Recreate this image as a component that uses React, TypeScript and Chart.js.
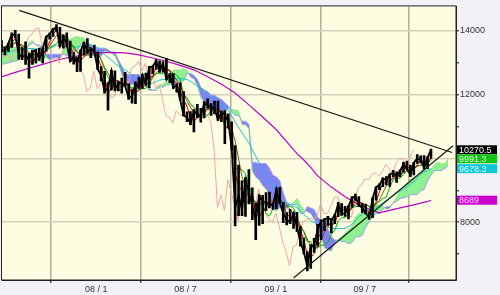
import React, { useEffect, useRef } from "react";
import { Chart, registerables } from "chart.js";
Chart.register(...registerables);

// ---- data (weekly, Dow Jones style index) ----
const START_WEEK = "2007-06-22";
const HIGH = [
  13700,13500,13620,13940,14020,13900,13480,13660,13290,13400,
  13420,13460,13460,13830,13930,14070,14200,14110,13880,13940,
  13680,13320,13180,13400,13640,13760,13460,13560,13340,12880,
  12730,12380,12770,12750,12430,12520,12700,12340,12160,12400,
  12550,12650,12680,12890,12900,13100,13060,13030,13140,12670,
  12660,12350,12370,12100,11460,11470,11530,11700,11570,11780,
  11870,11720,11800,11800,11480,11500,11400,11150,10400,9790,
  9300,9400,9650,9080,8600,8850,8840,8930,8940,8610,
  9070,9090,8620,8300,8400,8300,8310,7860,7510,7080,
  7300,7490,7930,8070,8110,8180,8100,8250,8620,8580,
  8500,8520,8800,8880,8800,8600,8560,8300,8760,9110,
  9200,9390,9430,9510,9630,9580,9640,9880,9920,9790,
  9880,10120,10080,10090,10050,10290,
];
const LOW = [
  13330,13250,13360,13480,13790,13110,13100,12950,12520,12950,
  12990,13080,13000,13360,13740,13830,13990,13500,13460,13500,
  13040,12960,12720,12730,13260,13300,13160,13340,12790,12430,
  12050,11510,12150,12120,12120,12050,12250,11850,11730,11720,
  12200,12200,12300,12220,12660,12790,12700,12710,12470,12380,
  12200,12080,11830,11330,11150,11060,10830,11280,11140,11270,
  11570,11350,11400,11190,11150,10460,10950,10270,7880,8200,
  8200,8180,8570,8080,7450,7900,7950,8360,8450,8400,
  8420,8570,7980,7910,7950,7800,7700,7250,7000,6470,
  6550,7050,7250,7450,7730,7900,7660,7950,8170,8210,
  8180,8100,8470,8680,8490,8300,8260,8090,8140,8690,
  9020,9110,9170,9120,9420,9250,9420,9570,9650,9430,
  9480,9840,9860,9670,9680,10000,
];
const CLOSE = [
  13360,13409,13611,13907,13851,13265,13182,13239,13079,13378,
  13358,13113,13442,13821,13896,14066,14093,13522,13806,13595,
  13043,13177,12981,13372,13625,13340,13450,13366,12800,12606,
  12099,12207,12743,12183,12348,12381,12266,11894,11951,12361,
  12216,12610,12325,12850,12891,13058,12746,12986,12480,12638,
  12210,12308,11843,11346,11289,11101,11496,11370,11326,11734,
  11659,11628,11543,11220,11421,11388,11143,10325,8451,8852,
  8378,9325,8943,8497,8046,8829,8635,8629,8579,8515,
  9034,8599,8281,8077,8001,8280,7850,7366,7063,6627,
  7224,7279,7776,8018,8083,8131,8076,8212,8575,8268,
  8278,8500,8764,8799,8539,8438,8280,8146,8743,9093,
  9171,9370,9321,9505,9544,9441,9605,9820,9665,9487,
  9865,9995,9972,9713,10023,10270.5,
];
const TENKAN = [
  13500,13475,13435,13650,13750,13565,13500,13305,13090,12960,
  13185,13225,13230,13415,13645,13905,14015,13850,13785,13700,
  13490,13320,13020,13060,13185,13510,13460,13360,13175,12885,
  12465,12120,12140,12445,12435,12285,12375,12275,12035,12060,
  12135,12425,12440,12555,12560,12880,12900,12880,12805,12760,
  12435,12370,12100,11850,11625,11265,11180,11265,11420,11460,
  11570,11610,11575,11495,11475,10980,10980,10835,9515,9140,
  8995,8790,8915,8865,8265,8150,8375,8440,8650,8670,
  8735,8755,8535,8265,8155,8100,8005,7780,7430,6990,
  6885,7020,7490,7660,7780,7955,7920,7955,8285,8395,
  8380,8310,8450,8675,8685,8550,8430,8325,8425,8625,
  8945,9205,9270,9315,9375,9440,9445,9650,9745,9675,
  9655,9800,9980,9880,9880,9985,
];
const KIJUN = [
  13470,13470,13475,13595,13635,13565,13560,13485,13270,13210,
  13090,13090,12990,13390,13460,13535,13600,13780,13830,13830,
  13620,13535,13330,13330,13200,13240,13240,13245,13275,13095,
  12805,12535,12425,12195,12140,12140,12410,12300,12215,12210,
  12210,12185,12200,12305,12550,12650,12660,12660,12805,12760,
  12670,12610,12485,12000,11905,11715,11600,11465,11265,11305,
  11350,11505,11505,11530,11510,11130,11130,11035,9690,9690,
  9640,9515,9140,8835,8550,8550,8550,8265,8195,8420,
  8510,8725,8535,8500,8500,8445,8160,7825,7700,7390,
  7390,7165,7200,7270,7290,7365,7615,7750,8035,8140,
  8140,8285,8450,8490,8490,8490,8570,8485,8445,8600,
  8645,8740,8785,9100,9325,9370,9380,9500,9585,9585,
  9670,9775,9775,9775,9775,9991.3,
];
// leading spans (week index continues 5 weeks past the last candle)
const SPAN_A = [
  13480,13500,13520,13500,13480,13485,13470,13455,13620,13690,
  13565,13530,13395,13180,13085,13140,13155,13110,13400,13550,
  13720,13805,13815,13805,13765,13555,13430,13175,13195,13190,
  13375,13350,13300,13225,12990,12635,12330,12280,12320,12290,
  12210,12390,12290,12125,12135,12170,12305,12320,12430,12555,
  12765,12780,12770,12805,12760,12550,12490,12290,11925,11765,
  11600,11500,11450,11420,11420,11460,11555,11540,11510,11490,
  11055,11055,10935,9600,9415,9320,9150,9030,8850,8410,
  8350,8460,8350,8420,8545,8620,8740,8535,8380,8330,
  8270,8080,7800,7565,7190,7135,7090,7345,7465,7535,
  7660,7765,7850,8160,8265,8260,8300,8450,8580,8590,
  8520,8500,8405,8435,8610,8795,8970,9030,9210,9350,
  9405,9410,9575,9665,9630,9660,9790,9880,9830,9830,
  9985,
];
const SPAN_B = [
  12950,12970,13000,13030,13060,13100,13200,13350,13545,13635,
  13565,13560,13485,13270,13270,13270,13270,13270,13270,13225,
  13295,13360,13360,13575,13595,13600,13580,13460,13460,13460,
  13460,13415,13330,13330,13095,12905,12635,12635,12635,12635,
  12635,12535,12425,12195,12140,12140,12245,12235,12305,12310,
  12410,12410,12410,12430,12670,12670,12610,12485,12235,12145,
  12100,11985,11985,11900,11850,11750,11650,11465,11350,11350,
  11165,11165,11070,9875,9875,9840,9840,9840,9690,9475,
  9425,9300,8925,8620,8550,8550,8550,8270,8270,8495,
  8445,8395,8170,8045,7780,7780,7545,7435,7435,7390,
  7390,7325,7360,7545,7545,7585,7835,8025,8165,8270,
  8270,8415,8485,8485,8600,8645,8740,8760,8800,8860,
  8860,8865,8985,9030,9305,9470,9615,9620,9620,9685,
  9770,
];
// [week index, value]
const MA25 = [
  [0,13350],[2,13430],[4,13630],[6,13560],[8,13320],[10,13250],[12,13270],[14,13530],[16,13860],[18,13880],
  [20,13610],[22,13320],[24,13240],[26,13350],[28,13320],[30,12860],[32,12490],[34,12320],[36,12380],[38,12170],
  [40,12140],[42,12290],[44,12580],[46,12770],[48,12830],[50,12610],[52,12300],[54,11800],[56,11420],[58,11320],
  [60,11520],[62,11580],[64,11490],[66,11340],[68,10550],[70,9430],[72,8790],[74,8640],[76,8590],[78,8540],
  [80,8680],[82,8600],[84,8400],[86,8100],[88,7710],[90,7230],[92,7190],[94,7680],[96,8020],[98,8220],
  [100,8280],[102,8480],[104,8580],[106,8560],[108,8430],[110,8690],[112,9140],[114,9380],[116,9480],[118,9620],
  [120,9690],[122,9800],[124,9910],[125,9995],
];
const MA75 = [
  [0,13250],[2,13320],[4,13400],[6,13440],[8,13450],[10,13440],[12,13440],[14,13460],[16,13550],[18,13540],
  [20,13510],[22,13490],[24,13530],[26,13550],[28,13480],[30,13260],[32,13080],[34,12890],[36,12780],[38,12620],
  [40,12460],[42,12330],[44,12360],[46,12460],[48,12490],[50,12500],[52,12500],[54,12480],[56,12350],[58,12180],
  [60,12020],[62,11850],[64,11680],[66,11520],[68,11140],[70,10800],[72,10490],[74,10060],[76,9670],[78,9300],
  [80,8950],[82,8640],[84,8560],[86,8450],[88,8250],[90,8050],[92,7920],[94,7880],[96,7800],[98,7800],
  [100,7800],[102,7930],[104,8170],[106,8320],[108,8390],[110,8530],[112,8690],[114,8830],[116,8980],[118,9110],
  [120,9270],[122,9510],[124,9630],[125,9678.3],
];
const MA200 = [
  [0,12560],[4,12700],[8,12830],[12,12950],[16,13080],[20,13180],[24,13250],[28,13310],[32,13330],[36,13310],
  [40,13250],[44,13150],[48,13050],[52,12920],[56,12780],[60,12560],[64,12330],[68,12050],[72,11680],[76,11300],
  [80,10900],[84,10400],[86,10150],[88,9950],[90,9720],[92,9450],[96,9100],[100,8800],[104,8550],[108,8360],
  [110,8290],[113,8370],[116,8450],[120,8540],[124,8650],[125,8689],
];
const TREND_DOWN: [string, number][] = [["2007-07-28", 14646], ["2009-12-26", 10185]];
const TREND_UP: [string, number][] = [["2009-02-06", 6246], ["2009-12-28", 10400]];
const CHIKOU_SHIFT_DAYS = 36;

const X_MIN_DATE = "2007-06-23";
const X_MAX_DATE = "2010-01-03";
const X_TICK_DATES = ["2007-07-01", "2008-01-01", "2008-07-01", "2009-01-01", "2009-07-01"];
const X_TICK_LABELS = ["", "08 / 1", "08 / 7", "09 / 1", "09 / 7"];
const Y_MIN = 6185;
const Y_MAX = 14770;
const Y_TICKS = [7000, 8000, 9000, 10000, 11000, 12000, 13000, 14000];

const FONT = { family: "'Liberation Sans', Arial, sans-serif", size: 9 };

const dayOf = (s: string) => {
  const [y, m, d] = s.split("-").map(Number);
  return (Date.UTC(y, m - 1, d) - Date.UTC(2008, 0, 1)) / 86400000;
};
const W0 = dayOf(START_WEEK);
const wx = (i: number) => W0 + 7 * i;
const series = (vals: number[]) => vals.map((v, i) => ({ x: wx(i), y: v }));
const pairs = (arr: number[][]) => arr.map(([i, v]) => ({ x: wx(i), y: v }));
const trend = (arr: [string, number][]) => arr.map(([d, v]) => ({ x: dayOf(d), y: v }));

const LABELS = [
  { value: CLOSE[CLOSE.length - 1], bg: "#000000", fg: "#ffffff" },
  { value: KIJUN[KIJUN.length - 1], bg: "#12c412", fg: "#d8ffd8" },
  { value: MA75[MA75.length - 1][1], bg: "#10c6d6", fg: "#dcffff" },
  { value: MA200[MA200.length - 1][1], bg: "#cc00cc", fg: "#ffd0ff" },
];

const framePlugin = {
  id: "frame",
  beforeDraw(chart: any) {
    const { ctx, chartArea: a } = chart;
    ctx.save();
    ctx.fillStyle = "#fdfde2";
    ctx.fillRect(a.left, a.top, a.right - a.left, a.bottom - a.top);
    ctx.restore();
  },
  afterDraw(chart: any) {
    const { ctx, chartArea: a, scales } = chart;
    ctx.save();
    ctx.strokeStyle = "#222";
    ctx.lineWidth = 1;
    ctx.strokeRect(a.left - 0.5, a.top - 0.5, a.right - a.left + 0.5, a.bottom - a.top + 0.5);
    // value boxes on the right axis
    const ys = scales.y;
    const h = 9;
    let prevBottom = -Infinity;
    ctx.font = `${FONT.size}px ${FONT.family}`;
    ctx.textBaseline = "middle";
    ctx.textAlign = "left";
    for (const lb of LABELS) {
      let top = ys.getPixelForValue(lb.value) - h / 2;
      if (top < prevBottom) top = prevBottom;
      prevBottom = top + h;
      ctx.fillStyle = lb.bg;
      ctx.fillRect(a.right + 1, top, 40, h);
      ctx.fillStyle = lb.fg;
      ctx.fillText(String(lb.value), a.right + 3, top + h / 2 + 0.5);
    }
    ctx.restore();
  },
};

export default function App() {
  const ref = useRef<HTMLCanvasElement | null>(null);
  useEffect(() => {
    if (!ref.current) return;
    const line = (data: any[], color: string, width: number, order: number, extra: any = {}) => ({
      type: "line",
      data,
      borderColor: color,
      backgroundColor: color,
      borderWidth: width,
      pointRadius: 0,
      tension: 0,
      fill: false,
      order,
      ...extra,
    });
    const datasets: any[] = [
      line(trend(TREND_DOWN), "#1a1a1a", 1.2, 0),
      line(trend(TREND_UP), "#1a1a1a", 1.2, 0),
      line(series(CLOSE), "#000000", 1.8, 1),
      {
        type: "bar",
        data: CLOSE.map((_, i) => ({ x: wx(i), y: [LOW[i], HIGH[i]] })),
        backgroundColor: "#000000",
        borderWidth: 0,
        barThickness: 2,
        order: 2,
      },
      line(series(TENKAN), "#e00000", 1, 3),
      line(pairs(MA25), "#7a5a14", 1, 4),
      line(series(KIJUN), "#00b400", 1, 5),
      line(CLOSE.map((v, i) => ({ x: wx(i) - CHIKOU_SHIFT_DAYS, y: v })), "#f2a6a6", 1, 6),
      line(pairs(MA75), "#1cc4c8", 1, 7),
      line(pairs(MA200), "#c000c8", 1.2, 8),
      line(series(SPAN_B), "#8c94f0", 0.8, 9),
    ];
    const bIndex = datasets.length - 1;
    datasets.push(
      line(series(SPAN_A), "#86e086", 0.8, 10, {
        fill: { target: bIndex, above: "#8ff08f", below: "#8282f4" },
      })
    );

    const chart = new Chart(ref.current, {
      type: "line",
      data: { datasets },
      options: {
        animation: false,
        responsive: false,
        devicePixelRatio: 1,
        layout: { padding: { left: 2, top: 1, right: 0, bottom: 0 } },
        plugins: { legend: { display: false }, tooltip: { enabled: false } },
        scales: {
          x: {
            type: "linear",
            position: "bottom",
            min: dayOf(X_MIN_DATE),
            max: dayOf(X_MAX_DATE),
            offset: false,
            afterBuildTicks: (s: any) => {
              s.ticks = X_TICK_DATES.map((d) => ({ value: dayOf(d) }));
            },
            afterFit: (s: any) => {
              s.height = 15;
            },
            ticks: {
              autoSkip: false,
              maxRotation: 0,
              padding: 1,
              font: FONT,
              color: "#333",
              callback: (v: any) => {
                const k = X_TICK_DATES.findIndex((d) => dayOf(d) === v);
                return k >= 0 ? X_TICK_LABELS[k] : "";
              },
            },
            grid: { color: "#b2ae9a", lineWidth: 1.5, tickLength: 3, tickColor: "#555" },
            border: { display: true, color: "#222", width: 1 },
          },
          y: {
            type: "linear",
            position: "right",
            min: Y_MIN,
            max: Y_MAX,
            afterBuildTicks: (s: any) => {
              s.ticks = Y_TICKS.map((v) => ({ value: v }));
            },
            afterFit: (s: any) => {
              s.width = 44;
            },
            ticks: {
              autoSkip: false,
              padding: 1,
              font: FONT,
              color: "#333",
              callback: (v: any) => (Number(v) % 2000 === 0 ? String(v) : ""),
            },
            grid: {
              color: (c: any) => (c.tick && c.tick.value % 2000 === 0 ? "#d6d2ba" : "rgba(0,0,0,0)"),
              lineWidth: 1.5,
              tickLength: 3,
              tickColor: "#555",
            },
            border: { display: true, color: "#222", width: 1 },
          },
        },
      },
      plugins: [framePlugin],
    } as any);
    return () => chart.destroy();
  }, []);
  return (
    <div style={{ position: "fixed", left: 0, top: 0, width: 500, height: 295, background: "#f4f1f6" }}>
      <canvas ref={ref} width={500} height={295} style={{ display: "block" }} />
    </div>
  );
}
